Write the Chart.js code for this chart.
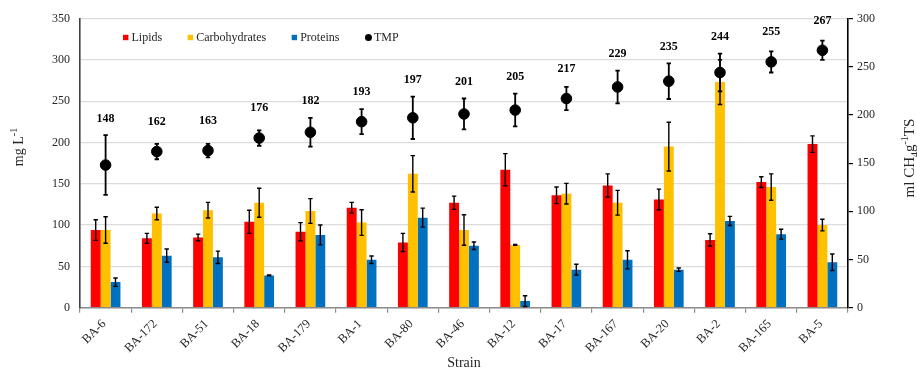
<!DOCTYPE html>
<html>
<head>
<meta charset="utf-8">
<script src="https://cdn.jsdelivr.net/npm/chart.js@4.4.0/dist/chart.umd.min.js"></script>
<style>
  html, body { margin: 0; padding: 0; background: #fff; }
  #wrap { width: 917px; height: 370px; position: relative; }
</style>
</head>
<body>
<div id="wrap"><canvas id="chart"></canvas></div>
<script>
// ---- data ----
const strains = ['BA-6', 'BA-172', 'BA-51', 'BA-18', 'BA-179', 'BA-1', 'BA-80', 'BA-46',
                 'BA-12', 'BA-17', 'BA-167', 'BA-20', 'BA-2', 'BA-165', 'BA-5'];

const lipids     = [94, 84, 85, 104, 92, 121, 79, 127, 167, 136, 148, 131, 82, 152, 198];
const lipidsErr  = [12.5, 6, 4, 14, 11, 6.5, 11, 8, 19.5, 10, 14, 12.5, 7.5, 6.5, 10];

const carbs      = [94, 114, 118, 127, 117, 103, 162, 94, 76, 138, 127, 195, 273, 146, 100];
const carbsErr   = [16, 7.5, 9.5, 17.5, 15, 15.5, 22, 18.5, 0.5, 12.5, 15, 29.5, 27, 16, 7];

const proteins    = [31, 63, 61, 39, 88, 58, 109, 75, 8, 46, 58, 46, 105, 89, 55];
const proteinsErr = [5, 8, 7.5, 0.5, 12, 4.5, 11.5, 4.5, 6.5, 6.5, 11, 2, 5.5, 6, 10];

const tmp    = [148, 162, 163, 176, 182, 193, 197, 201, 205, 217, 229, 235, 244, 255, 267];
const tmpErr = [31, 8, 7, 8, 15, 13, 22, 16, 17, 12, 17, 18.5, 19.5, 11, 10];

const leftTicks  = [0, 50, 100, 150, 200, 250, 300, 350];
const rightTicks = [0, 50, 100, 150, 200, 250, 300];

const SERIF = '"Liberation Serif", "Times New Roman", serif';
const TXT = '#262626';

// ---- error bars ----
const errorBars = {
    id: 'errorBars',
    afterDatasetsDraw(chart) {
        const ctx = chart.ctx;
        chart.data.datasets.forEach((ds, i) => {
            if (!ds.errors) return;
            const meta = chart.getDatasetMeta(i);
            const scale = chart.scales[ds.yAxisID || 'y'];
            ctx.save();
            ctx.strokeStyle = '#000';
            ctx.lineWidth = ds.type === 'line' ? 1.8 : 1.4;
            const cap = 2.2;
            meta.data.forEach((el, j) => {
                const v = ds.data[j], e = ds.errors[j];
                const x = el.x;
                const yt = scale.getPixelForValue(v + e);
                const yb = scale.getPixelForValue(v - e);
                ctx.beginPath();
                ctx.moveTo(x, yt); ctx.lineTo(x, yb);
                ctx.moveTo(x - cap, yt); ctx.lineTo(x + cap, yt);
                ctx.moveTo(x - cap, yb); ctx.lineTo(x + cap, yb);
                ctx.stroke();
            });
            ctx.restore();
        });
    }
};

// ---- TMP value labels ----
const tmpLabels = {
    id: 'tmpLabels',
    afterDatasetsDraw(chart) {
        const ctx = chart.ctx;
        const idx = chart.data.datasets.findIndex(d => d.type === 'line');
        const meta = chart.getDatasetMeta(idx);
        const scale = chart.scales.y1;
        ctx.save();
        ctx.font = 'bold 12px ' + SERIF;
        ctx.fillStyle = '#000';
        ctx.textAlign = 'center';
        ctx.textBaseline = 'middle';
        meta.data.forEach((el, j) => {
            const pos = Math.max(tmp[j] + 31, tmp[j] + tmpErr[j] + 17);
            ctx.fillText(String(tmp[j]), el.x, scale.getPixelForValue(pos));
        });
        ctx.restore();
    }
};

// rich text: parts [{t, s}] s = 1 superscript, -1 subscript
function drawRich(ctx, parts, cx, cy, size) {
    const small = Math.round(size * 0.68);
    let w = 0;
    parts.forEach(p => {
        ctx.font = (p.s ? small : size) + 'px ' + SERIF;
        p.w = ctx.measureText(p.t).width;
        w += p.w;
    });
    ctx.save();
    ctx.translate(cx, cy);
    ctx.rotate(-Math.PI / 2);
    ctx.fillStyle = TXT;
    ctx.textBaseline = 'alphabetic';
    ctx.textAlign = 'left';
    let x = -w / 2;
    parts.forEach(p => {
        ctx.font = (p.s ? small : size) + 'px ' + SERIF;
        const dy = p.s === 1 ? -size * 0.4 : (p.s === -1 ? size * 0.22 : 0);
        ctx.fillText(p.t, x, size * 0.35 + dy);
        x += p.w;
    });
    ctx.restore();
}

const axisTitles = {
    id: 'axisTitles',
    afterDraw(chart) {
        const ctx = chart.ctx;
        drawRich(ctx, [{t: 'mg L'}, {t: '-1', s: 1}], 18, 147, 14);
        drawRich(ctx, [{t: 'ml CH'}, {t: '4', s: -1}, {t: 'g'}, {t: '-1', s: 1}, {t: 'TS'}],
                 909, 158, 15);
    }
};

// ---- legend inside plot area ----
const innerLegend = {
    id: 'innerLegend',
    afterDraw(chart) {
        const ctx = chart.ctx;
        const y = chart.chartArea.top + 19;
        let x = chart.chartArea.left + 43;
        ctx.save();
        ctx.font = '12px ' + SERIF;
        ctx.textBaseline = 'middle';
        ctx.textAlign = 'left';
        chart.data.datasets.forEach(ds => {
            if (ds.type === 'line') {
                ctx.fillStyle = '#000';
                ctx.beginPath();
                ctx.arc(x + 3.5, y, 3.5, 0, Math.PI * 2);
                ctx.fill();
                x += 9;
            } else {
                ctx.fillStyle = ds.backgroundColor;
                ctx.fillRect(x, y - 2.7, 5.4, 5.4);
                x += 8.5;
            }
            ctx.fillStyle = TXT;
            ctx.fillText(ds.label, x, y);
            x += ctx.measureText(ds.label).width + 25.5;
        });
        ctx.restore();
    }
};

const ctx = document.getElementById('chart').getContext('2d');
new Chart(ctx, {
    data: {
        labels: strains,
        datasets: [
            { type: 'bar', label: 'Lipids', data: lipids, errors: lipidsErr,
              backgroundColor: '#FF0000', yAxisID: 'y', order: 1 },
            { type: 'bar', label: 'Carbohydrates', data: carbs, errors: carbsErr,
              backgroundColor: '#FFC000', yAxisID: 'y', order: 1 },
            { type: 'bar', label: 'Proteins', data: proteins, errors: proteinsErr,
              backgroundColor: '#0070C0', yAxisID: 'y', order: 1 },
            { type: 'line', label: 'TMP', data: tmp, errors: tmpErr, yAxisID: 'y1',
              showLine: false, pointRadius: 5.3, pointBackgroundColor: '#000',
              pointBorderColor: '#000', order: 0 }
        ]
    },
    options: {
        responsive: true,
        maintainAspectRatio: false,
        animation: false,
        layout: { padding: { top: 18.5, left: 0, right: 0, bottom: 0 } },
        datasets: { bar: { categoryPercentage: 0.58, barPercentage: 1.0 } },
        plugins: {
            legend: { display: false },
            tooltip: { enabled: false }
        },
        scales: {
            x: {
                offset: true,
                grid: { display: true, drawOnChartArea: false, drawTicks: true, tickLength: 5,
                        color: '#8c8c8c', lineWidth: 1.2, offset: true },
                border: { color: '#8c8c8c', width: 1.6 },
                ticks: { minRotation: 45, maxRotation: 45, autoSkip: false, padding: 4,
                         labelOffset: -1.5, color: TXT, font: { family: SERIF, size: 12.5 } },
                title: { display: true, text: 'Strain', color: TXT,
                         font: { family: SERIF, size: 14, lineHeight: 1.0 }, padding: { top: 0, bottom: 0 } },
                afterFit: s => { s.height = 62.3; }
            },
            y: {
                position: 'left',
                min: 0, max: 350,
                afterBuildTicks: s => { s.ticks = leftTicks.map(v => ({ value: v })); },
                grid: { color: '#dcdcdc', lineWidth: 1.2, drawTicks: false },
                border: { color: '#404040', width: 1.6 },
                ticks: { padding: 10, color: TXT, font: { family: SERIF, size: 12 } },
                afterFit: s => { s.width = 80; }
            },
            y1: {
                position: 'right',
                min: 0, max: 300,
                afterBuildTicks: s => { s.ticks = rightTicks.map(v => ({ value: v })); },
                grid: { drawOnChartArea: false, drawTicks: true, tickLength: 5, color: '#000', lineWidth: 1.2 },
                border: { color: '#000', width: 1.6 },
                ticks: { padding: 4, color: TXT, font: { family: SERIF, size: 12 } },
                afterFit: s => { s.width = 69; }
            }
        }
    },
    plugins: [errorBars, tmpLabels, axisTitles, innerLegend]
});
</script>
</body>
</html>
